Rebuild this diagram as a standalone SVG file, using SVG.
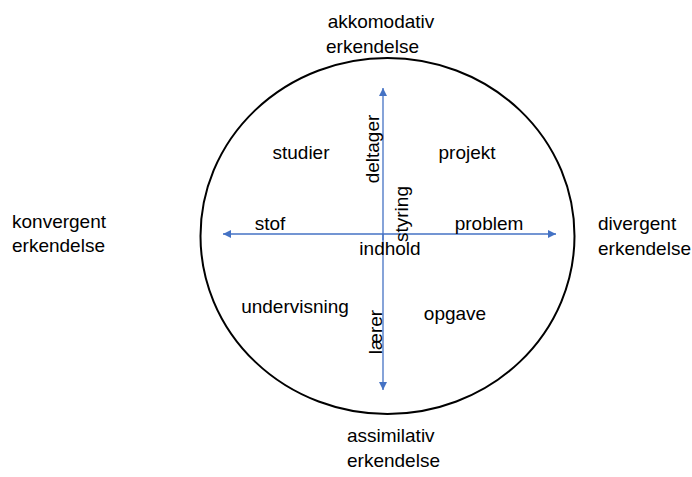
<svg xmlns="http://www.w3.org/2000/svg" width="692" height="477" viewBox="0 0 692 477">
<style>
text{font-family:"Liberation Sans",Arial,sans-serif;font-size:19px;fill:#000}
.ax{stroke:#4472C4;stroke-width:1.3;fill:none}
</style>
<defs>
<marker id="ah" viewBox="0 0 10 10" refX="10" refY="5" markerWidth="8" markerHeight="8" markerUnits="userSpaceOnUse" orient="auto">
<path d="M0,0 L10,5 L0,10 z" fill="#4472C4"/>
</marker>
</defs>
<g id="circle"><ellipse cx="387.5" cy="236" rx="187" ry="178" fill="none" stroke="#000" stroke-width="2"/></g>
<g id="connectors">
<line class="ax" x1="383" y1="240" x2="383" y2="88" marker-end="url(#ah)"/>
<line class="ax" x1="383" y1="234" x2="383" y2="390" marker-end="url(#ah)"/>
<line class="ax" x1="383" y1="234" x2="223" y2="234" marker-end="url(#ah)"/>
<line class="ax" x1="383" y1="234" x2="556" y2="234" marker-end="url(#ah)"/>
</g>
<g id="akkomodativ"><text x="381" y="28" text-anchor="middle">akkomodativ</text><text x="326" y="53">erkendelse</text></g>
<g id="assimilativ"><text x="347" y="442">assimilativ</text><text x="347" y="467">erkendelse</text></g>
<g id="konvergent"><text x="12" y="228">konvergent</text><text x="12" y="252">erkendelse</text></g>
<g id="divergent"><text x="598" y="230">divergent</text><text x="598" y="255">erkendelse</text></g>
<g id="studier"><text x="301" y="159" text-anchor="middle">studier</text></g>
<g id="projekt"><text x="467" y="159" text-anchor="middle">projekt</text></g>
<g id="undervisning"><text x="295" y="313" text-anchor="middle">undervisning</text></g>
<g id="opgave"><text x="455" y="320" text-anchor="middle">opgave</text></g>
<g id="stof"><text x="270" y="230" text-anchor="middle">stof</text></g>
<g id="problem"><text x="489" y="230" text-anchor="middle">problem</text></g>
<g id="indhold"><text x="390" y="255" text-anchor="middle">indhold</text></g>
<g id="deltager"><text transform="translate(379,149) rotate(-90)" text-anchor="middle">deltager</text></g>
<g id="styring"><text transform="translate(408,214) rotate(-90)" text-anchor="middle">styring</text></g>
<g id="laerer"><text transform="translate(382,332) rotate(-90)" text-anchor="middle">lærer</text></g>
</svg>
